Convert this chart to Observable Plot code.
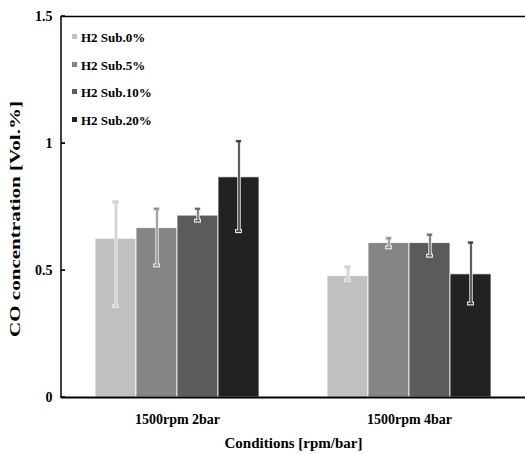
<!DOCTYPE html>
<html><head><meta charset="utf-8">
<script src="https://cdn.jsdelivr.net/npm/d3@7"></script>
<script src="https://cdn.jsdelivr.net/npm/@observablehq/plot@0.6"></script>
<style>
body{margin:0;background:#fff;}
#wrap{position:relative;width:525px;height:454px;font-family:"Liberation Serif",serif;}
#legend{position:absolute;left:70px;top:30px;font-weight:bold;font-size:13px;}
#legend .item{height:27.7px;display:flex;align-items:flex-start;}
#legend .sw{width:5px;height:5px;margin:4px 4px 0 2px;}
</style></head>
<body><div id="wrap"><div id="legend"></div></div>
<script>
const conditions = ["1500rpm 2bar", "1500rpm 4bar"];
const series = ["H2 Sub.0%", "H2 Sub.5%", "H2 Sub.10%", "H2 Sub.20%"];
const values2bar = [0.625, 0.667, 0.716, 0.867];
const low2bar = [0.36, 0.52, 0.696, 0.655];
const high2bar = [0.77, 0.743, 0.743, 1.009];
const values4bar = [0.478, 0.608, 0.608, 0.485];
const low4bar = [0.462, 0.591, 0.558, 0.37];
const high4bar = [0.514, 0.627, 0.641, 0.61];
const yTicks = [0, 0.5, 1, 1.5];
const yLabel = "CO concentration [Vol.%]";
const xLabel = "Conditions [rpm/bar]";
const colors = ["#c0c0c0", "#858585", "#5b5b5b", "#222222"];
const whisk = ["#cfcfcf", "#8e8e8e", "#666666", "#333333"];

const rows = [];
[[values2bar, low2bar, high2bar], [values4bar, low4bar, high4bar]].forEach(([v, lo, hi], ci) => {
  series.forEach((s, si) => rows.push({condition: conditions[ci], series: s, value: v[si], low: lo[si], high: hi[si], wc: whisk[si]}));
});

const plot = Plot.plot({
  width: 525, height: 454,
  marginLeft: 60, marginRight: 0, marginTop: 16, marginBottom: 57,
  style: {fontFamily: "Liberation Serif", fontWeight: "bold", fontSize: "13px", background: "white", color: "black"},
  fx: {domain: conditions, padding: 0, label: xLabel, labelAnchor: "center", tickSize: 0, tickPadding: 17, labelOffset: 50},
  x: {domain: series, paddingInner: 0, paddingOuter: 0.762, axis: null},
  y: {domain: [0, 1.5], ticks: yTicks, tickFormat: d => String(d), label: yLabel, labelAnchor: "center", labelOffset: 52, tickSize: -4, tickPadding: 13},
  color: {domain: series, range: colors},
  marks: [
    Plot.barY(rows, {fx: "condition", x: "series", y: "value", fill: "series", stroke: "white", strokeWidth: 1, strokeOpacity: 0.8}),
    Plot.ruleX(rows, {fx: "condition", x: "series", y1: "low", y2: "high", stroke: "#e6e6e6", strokeWidth: 3.5}),
    Plot.tickY(rows, {fx: "condition", x: "series", y: "low", stroke: "#e6e6e6", strokeWidth: 4, insetLeft: 17, insetRight: 17}),
    Plot.tickY(rows, {fx: "condition", x: "series", y: "high", stroke: "#e6e6e6", strokeWidth: 4, insetLeft: 17, insetRight: 17}),
    Plot.ruleX(rows, {fx: "condition", x: "series", y1: "low", y2: "high", stroke: "wc", strokeWidth: 1.5}),
    Plot.tickY(rows, {fx: "condition", x: "series", y: "low", stroke: "wc", strokeWidth: 1.5, insetLeft: 18, insetRight: 18}),
    Plot.tickY(rows, {fx: "condition", x: "series", y: "high", stroke: "wc", strokeWidth: 2, insetLeft: 18, insetRight: 18}),
    Plot.ruleY([0], {stroke: "black", strokeWidth: 2}),
    Plot.ruleY([1.5], {stroke: "black", strokeWidth: 1.5})
  ]
});
const svg = d3.select(plot);
svg.selectAll('[aria-label="y-axis label"] text').text(yLabel).attr("font-size", 15).attr("dx", -12).attr("textLength", 236).attr("lengthAdjust", "spacingAndGlyphs");
svg.selectAll('[aria-label="fx-axis label"] text').text(xLabel).attr("font-size", 15);
svg.selectAll('[aria-label="y-axis tick label"]').attr("font-size", 14);
svg.selectAll('[aria-label="fx-axis tick label"]').attr("font-size", 14);
// left axis line and inward ticks, placed through Plot's own scales
const yS = plot.scale("y"), fxS = plot.scale("fx");
const x0 = fxS.apply(conditions[0]);
svg.append("line").attr("x1", x0).attr("x2", x0).attr("y1", yS.apply(yTicks[0]) + 1).attr("y2", yS.apply(yTicks[yTicks.length - 1]))
  .attr("stroke", "black").attr("stroke-width", 1.5);
yTicks.forEach(t => svg.append("line").attr("x1", x0).attr("x2", x0 + 4).attr("y1", yS.apply(t)).attr("y2", yS.apply(t)).attr("stroke", "black").attr("stroke-width", 1.5));
document.getElementById("wrap").prepend(plot);

const legend = d3.select("#legend");
series.forEach((s, i) => {
  const it = legend.append("div").attr("class", "item");
  it.append("div").attr("class", "sw").style("background", colors[i]);
  it.append("span").text(s);
});
</script></body></html>
